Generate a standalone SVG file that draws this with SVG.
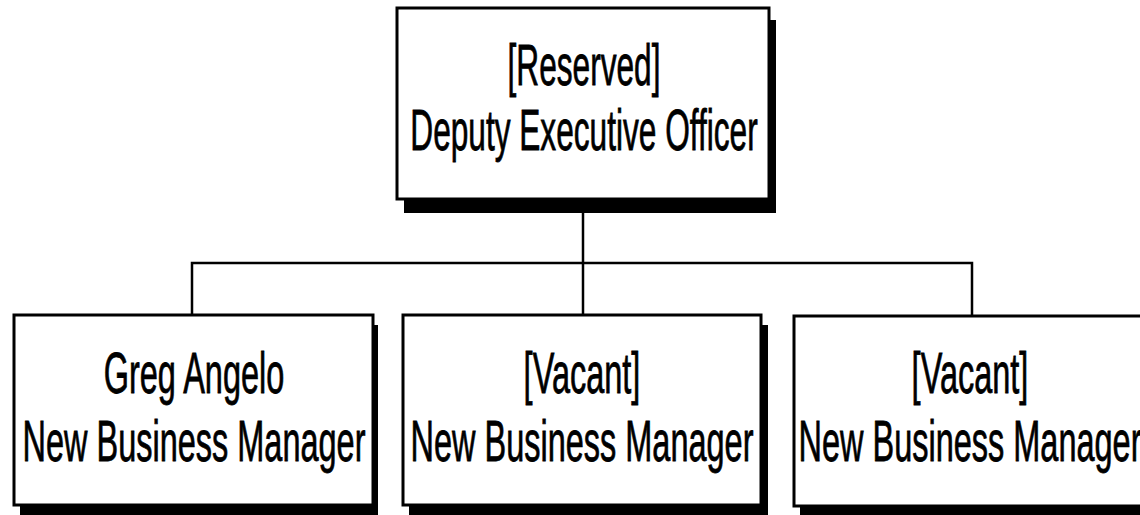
<svg xmlns="http://www.w3.org/2000/svg" width="1140" height="515" viewBox="0 0 1140 515">
<style>
.shadow{fill:#000;}
.box{fill:#fff;stroke:#000;stroke-width:3;}
.lbl{font-family:"Liberation Sans",Arial,sans-serif;font-size:57px;fill:#000;stroke:#000;stroke-width:0.8;text-anchor:middle;}
.conn{fill:none;stroke:#000;stroke-width:2.5;}
</style>
<rect width="1140" height="515" fill="#fff"/>
<g id="connectors">
<path class="conn" d="M583,199 V263"/>
<path class="conn" d="M192,315 V263 H972 V315"/>
<path class="conn" d="M583,263 V315"/>
</g>
<g id="node-deputy">
<rect class="shadow" x="404" y="20" width="372" height="193"/>
<rect class="box" x="397" y="8" width="372" height="191"/>
<g transform="translate(584,0) scale(0.555,1)">
<text class="lbl" x="0" y="85">[Reserved]</text>
<text class="lbl" x="0" y="150">Deputy Executive Officer</text>
</g>
</g>
<g id="node-greg">
<rect class="shadow" x="20" y="325" width="358" height="190"/>
<rect class="box" x="14" y="315" width="359" height="190"/>
<g transform="translate(194,0) scale(0.57,1)">
<text class="lbl" x="0" y="393">Greg Angelo</text>
<text class="lbl" x="0" y="461">New Business Manager</text>
</g>
</g>
<g id="node-vacant1">
<rect class="shadow" x="409" y="325" width="359" height="190"/>
<rect class="box" x="403" y="315" width="358" height="190"/>
<g transform="translate(582,0) scale(0.57,1)">
<text class="lbl" x="0" y="393">[Vacant]</text>
<text class="lbl" x="0" y="461">New Business Manager</text>
</g>
</g>
<g id="node-vacant2">
<rect class="shadow" x="800" y="325" width="360" height="190"/>
<rect class="box" x="794" y="316" width="360" height="190"/>
<g transform="translate(970,0) scale(0.57,1)">
<text class="lbl" x="0" y="393">[Vacant]</text>
<text class="lbl" x="0" y="461">New Business Manager</text>
</g>
</g>
</svg>
